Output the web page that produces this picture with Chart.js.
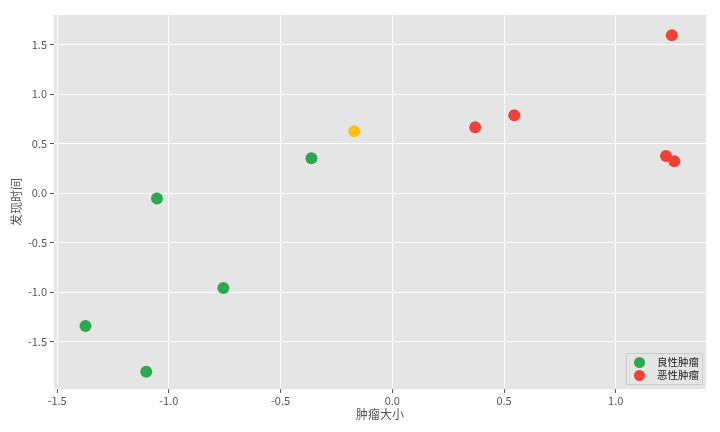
<!DOCTYPE html>
<html><head><meta charset="utf-8">
<script src="https://cdn.jsdelivr.net/npm/chart.js@4/dist/chart.umd.min.js"></script>
<style>html,body{margin:0;padding:0;background:#fff}#wrap{width:720px;height:432px}</style>
</head><body><div id="wrap"><canvas id="c" width="720" height="432"></canvas></div>
<script>
const benignLabel = '良性肿瘤';
const malignantLabel = '恶性肿瘤';
const benignX = [-1.053, -1.373, -1.101, -0.756, -0.362];
const benignY = [-0.054, -1.342, -1.803, -0.959, 0.353];
const malignantX = [0.371, 0.546, 1.251, 1.225, 1.262];
const malignantY = [0.666, 0.787, 1.594, 0.376, 0.323];
const newX = [-0.170];
const newY = [0.626];
const xTicks = [-1.5, -1.0, -0.5, 0.0, 0.5, 1.0];
const yTicks = [-1.5, -1.0, -0.5, 0.0, 0.5, 1.0, 1.5];
const xTitle = '肿瘤大小';
const yTitle = '发现时间';

const GREEN = '#2ea84e', RED = '#ef4136', YELLOW = '#ffc10e';
const FONT = '"Noto Sans CJK SC", "DejaVu Sans", sans-serif';
const pts = (xs, ys) => xs.map((x, i) => ({x, y: ys[i]}));

const bgPlugin = {
  id: 'bg',
  beforeDraw(chart) {
    const {ctx, chartArea: a} = chart;
    ctx.save(); ctx.fillStyle = '#e5e5e5';
    ctx.fillRect(a.left, a.top, a.right - a.left, a.bottom - a.top);
    ctx.restore();
  }
};
const legendPlugin = {
  id: 'lg',
  afterDatasetsDraw(chart) {
    const {ctx, chartArea: a} = chart;
    const w = 76, h = 31;
    const x = a.right - 4 - w, y = a.bottom - 5 - h;
    ctx.save();
    ctx.fillStyle = 'rgba(229,229,229,0.8)';
    ctx.strokeStyle = '#cccccc'; ctx.lineWidth = 1;
    ctx.beginPath(); ctx.rect(x + 0.5, y + 0.5, w, h); ctx.fill(); ctx.stroke();
    const items = [[benignLabel, GREEN], [malignantLabel, RED]];
    ctx.font = '10.5px ' + FONT; ctx.textBaseline = 'middle'; ctx.fillStyle = '#222';
    items.forEach((it, i) => {
      const cy = y + 9.5 + i * 13;
      ctx.beginPath(); ctx.fillStyle = it[1];
      ctx.arc(x + 13.5, cy, 5.5, 0, Math.PI * 2); ctx.fill();
      ctx.fillStyle = '#222'; ctx.textAlign = 'left';
      ctx.fillText(it[0], x + 31, cy);
    });
    ctx.restore();
  }
};

new Chart(document.getElementById('c'), {
  type: 'scatter',
  data: {
    datasets: [
      {label: benignLabel, data: pts(benignX, benignY), backgroundColor: GREEN, borderWidth: 0, pointRadius: 6, pointHoverRadius: 6},
      {label: malignantLabel, data: pts(malignantX, malignantY), backgroundColor: RED, borderWidth: 0, pointRadius: 6, pointHoverRadius: 6},
      {label: 'new', data: pts(newX, newY), backgroundColor: YELLOW, borderWidth: 0, pointRadius: 6, pointHoverRadius: 6}
    ]
  },
  options: {
    responsive: false, animation: false,
    layout: {padding: {left: 0, right: 14, top: 15, bottom: 0}},
    plugins: {legend: {display: false}, tooltip: {enabled: false}},
    scales: {
      x: {
        min: -1.514, max: 1.404,
        afterBuildTicks: ax => { ax.ticks = xTicks.map(v => ({value: v})); },
        afterFit: ax => { ax.height = 43; },
        grid: {color: '#ffffff', lineWidth: 1, tickColor: '#555', tickLength: 4, drawTicks: true},
        border: {display: false},
        ticks: {color: '#555', font: {family: FONT, size: 11}, padding: 1, maxRotation: 0, callback: v => v.toFixed(1)},
        title: {display: true, text: xTitle, color: '#555', font: {family: FONT, size: 12}, padding: {top: 2, bottom: 10}}
      },
      y: {
        min: -1.978, max: 1.799,
        afterBuildTicks: ax => { ax.ticks = yTicks.map(v => ({value: v})); },
        afterFit: ax => { ax.width = 54; },
        grid: {color: '#ffffff', lineWidth: 1, tickColor: '#555', tickLength: 4, drawTicks: true},
        border: {display: false},
        ticks: {color: '#555', font: {family: FONT, size: 11}, padding: 3, callback: v => v.toFixed(1)},
        title: {display: true, text: yTitle, color: '#555', font: {family: FONT, size: 12}, padding: {top: 9, bottom: 2}}
      }
    }
  },
  plugins: [bgPlugin, legendPlugin]
});
</script></body></html>
